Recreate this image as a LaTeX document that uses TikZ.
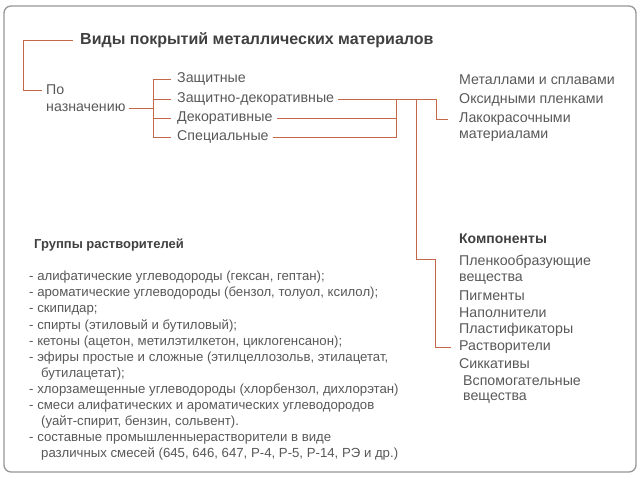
\documentclass[tikz,border=0pt]{standalone}
\usepackage{fontspec}
\setmainfont{Liberation Sans}
\definecolor{conn}{RGB}{196,104,74}
\definecolor{txt}{RGB}{88,88,88}
\definecolor{ttl}{RGB}{64,64,64}
\definecolor{frame}{RGB}{150,150,150}
\begin{document}
\begin{tikzpicture}[x=1pt,y=-1pt,
  lbl/.style={anchor=west,inner sep=0pt,text=txt,font=\fontsize{14.2}{17}\selectfont},
  hdr/.style={anchor=west,inner sep=0pt,text=ttl,font=\fontsize{13}{16}\selectfont\bfseries},
  link/.style={draw=conn,line width=0.9pt}]
\useasboundingbox (0,0) rectangle (640,480);
\draw[frame,line width=1.3pt,rounded corners=7pt] (4,6) rectangle (636,472);

\node[anchor=west,inner sep=0pt,text=ttl,font=\fontsize{16}{19}\selectfont\bfseries] (title) at (80,40) {Виды покрытий металлических материалов};
\node[lbl] (po) at (46,90) {По};
\node[lbl] (nazn) at (46,108) {назначению};
\node[lbl] (z1) at (177,79) {Защитные};
\node[lbl] (z2) at (177,99) {Защитно-декоративные};
\node[lbl] (z3) at (177,118) {Декоративные};
\node[lbl] (z4) at (177,137) {Специальные};

\node[lbl] (m1) at (459,80) {Металлами и сплавами};
\node[lbl] (m2) at (459,100) {Оксидными пленками};
\node[lbl] (lak) at (459,119) {Лакокрасочными};
\node[lbl] (lak2) at (459,136) {материалами};

\node[hdr,font=\fontsize{14}{16}\selectfont\bfseries] (komp) at (459,239) {Компоненты};
\node[lbl] (k1) at (459,262) {Пленкообразующие};
\node[lbl] (k1b) at (459,279) {вещества};
\node[lbl] (k2) at (459,296) {Пигменты};
\node[lbl] (k3) at (459,313) {Наполнители};
\node[lbl] (k4) at (459,330) {Пластификаторы};
\node[lbl] (rast) at (459,347) {Растворители};
\node[lbl] (k6) at (459,364) {Сиккативы};
\node[lbl] (k7) at (463,381) {Вспомогательные};
\node[lbl] (k7b) at (463,398) {вещества};

\node[hdr] (grp) at (34,245) {Группы растворителей};
\node[anchor=north west,inner sep=0pt,text=txt,align=left,font=\fontsize{13.2}{16.1}\selectfont] (list) at (29,271) {%
- алифатические углеводороды (гексан, гептан);\\
- ароматические углеводороды (бензол, толуол, ксилол);\\
- скипидар;\\
- спирты (этиловый и бутиловый);\\
- кетоны (ацетон, метилэтилкетон, циклогенсанон);\\
- эфиры простые и сложные (этилцеллозольв, этилацетат,\\
\hspace*{12pt}бутилацетат);\\
- хлорзамещенные углеводороды (хлорбензол, дихлорэтан)\\
- смеси алифатических и ароматических углеводородов\\
\hspace*{12pt}(уайт-спирит, бензин, сольвент).\\
- составные промышленныерастворители в виде\\
\hspace*{12pt}различных смесей (645, 646, 647, Р-4, Р-5, Р-14, РЭ и др.)};

\coordinate (j1) at (23,40);
\coordinate (b1) at (153,108);
\coordinate (r1) at (436,99);
\coordinate (c1) at (396,99);
\coordinate (c2) at (416,99);
\coordinate (c3) at (435,259);

\draw[link] ([xshift=-7pt]title.west) -- (j1) |- ([xshift=-4pt]po.west);
\draw[link] ([xshift=3pt]nazn.east) -- (b1);
\foreach \n in {z1,z2,z3,z4} \draw[link] ([xshift=-6pt]\n.west) -| (b1);
\draw[link] ([xshift=4pt]z2.east) -- (r1) |- ([xshift=-11pt]lak.west);
\draw[link] ([xshift=4pt]z3.east) -| (c1);
\draw[link] ([xshift=4pt]z4.east) -| (c1);
\draw[link] (c2) |- (c3) |- ([xshift=-8pt]rast.west);
\end{tikzpicture}
\end{document}
